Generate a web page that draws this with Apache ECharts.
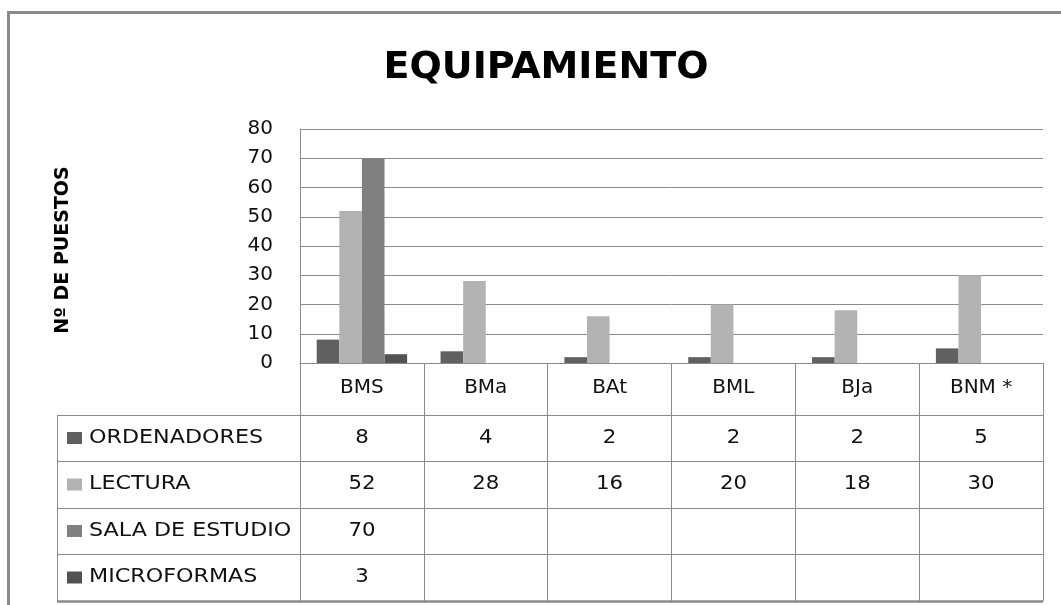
<!DOCTYPE html>
<html>
<head>
<meta charset="utf-8">
<script src="https://cdn.jsdelivr.net/npm/echarts@6/dist/echarts.min.js"></script>
<style>html,body{margin:0;padding:0;background:#fff}#c{width:1061px;height:605px}</style>
</head>
<body>
<div id="c"></div>
<script>
const titleText = 'EQUIPAMIENTO';
const yAxisTitle = 'Nº DE PUESTOS';
const categories = ['BMS', 'BMa', 'BAt', 'BML', 'BJa', 'BNM *'];
const seriesNames = ['ORDENADORES', 'LECTURA', 'SALA DE ESTUDIO', 'MICROFORMAS'];
const ordenadores = [8, 4, 2, 2, 2, 5];
const lectura = [52, 28, 16, 20, 18, 30];
const salaEstudio = [70, null, null, null, null, null];
const microformas = [3, null, null, null, null, null];
const yMin = 0, yMax = 80, yInterval = 10;

const seriesData = [ordenadores, lectura, salaEstudio, microformas];
const colors = ['#606060', '#b3b3b3', '#808080', '#525252'];
const lineColor = '#8a8a8a';
const font = 'DejaVu Sans';

const G = { left: 300, right: 18, top: 129, bottom: 242 };
const rowTops = [415, 461, 508, 554, 601];
const tableLeft = 57;

const chart = echarts.init(document.getElementById('c'), null, { renderer: 'canvas' });

const option = {
  animation: false,
  backgroundColor: '#fff',
  title: {
    text: titleText, left: 541, top: 44, textAlign: 'center',
    textStyle: { fontFamily: font, fontWeight: 'bold', fontSize: 38, color: '#000' }
  },
  grid: { left: G.left, right: G.right, top: G.top, bottom: G.bottom, containLabel: false },
  xAxis: {
    type: 'category', data: categories,
    axisLine: { show: true, lineStyle: { color: lineColor, width: 1 } },
    axisTick: { show: true, interval: 0, length: 601 - 363, lineStyle: { color: lineColor, width: 1 } },
    axisLabel: { interval: 0, margin: 15, fontFamily: font, fontSize: 20, color: '#111' },
    splitLine: { show: false }
  },
  yAxis: {
    type: 'value', min: yMin, max: yMax, interval: yInterval,
    name: yAxisTitle, nameLocation: 'middle', nameRotate: 90, nameGap: 227,
    nameTextStyle: { fontFamily: font, fontWeight: 'bold', fontSize: 19, color: '#000', padding: [0, 8, 0, 0] },
    axisLine: { show: true, lineStyle: { color: lineColor, width: 1 } },
    axisTick: { show: false },
    axisLabel: { margin: 27, fontFamily: font, fontSize: 20, color: '#111' },
    splitLine: { show: true, lineStyle: { color: lineColor, width: 1 } }
  },
  series: seriesNames.map((n, i) => ({
    name: n, type: 'bar', data: seriesData[i],
    barGap: '0%', barCategoryGap: '27%',
    itemStyle: { color: colors[i] }
  }))
};
chart.setOption(option);

function buildTable() {
  const els = [];
  const step = chart.convertToPixel({ xAxisIndex: 0 }, 1) - chart.convertToPixel({ xAxisIndex: 0 }, 0);
  const xRight = chart.convertToPixel({ xAxisIndex: 0 }, categories.length - 1) + step / 2;
  // outer frame
  els.push({ type: 'line', shape: { x1: 7, y1: 12.5, x2: 1061, y2: 12.5 }, style: { stroke: lineColor, lineWidth: 3 } });
  els.push({ type: 'line', shape: { x1: 8.5, y1: 11, x2: 8.5, y2: 605 }, style: { stroke: lineColor, lineWidth: 3 } });
  // horizontal table lines
  rowTops.forEach((y, k) => {
    els.push({ type: 'line', shape: { x1: tableLeft, y1: y + 0.5, x2: xRight, y2: y + 0.5 },
      style: { stroke: lineColor, lineWidth: k === rowTops.length - 1 ? 2.5 : 1 } });
  });
  els.push({ type: 'line', shape: { x1: tableLeft + 0.5, y1: rowTops[0], x2: tableLeft + 0.5, y2: rowTops[rowTops.length - 1] },
    style: { stroke: lineColor, lineWidth: 1 } });
  seriesNames.forEach((n, r) => {
    const cy = (rowTops[r] + rowTops[r + 1]) / 2;
    els.push({ type: 'rect', shape: { x: 67, y: cy - 6, width: 15, height: 12 }, style: { fill: colors[r] } });
    els.push({ type: 'text', x: 89, y: cy, scaleX: 1.17,
      style: { text: n, fontFamily: font, fontSize: 19, fill: '#111', textVerticalAlign: 'middle', textAlign: 'left' } });
    seriesData[r].forEach((v, c) => {
      if (v === null || v === undefined) return;
      const cx = chart.convertToPixel({ xAxisIndex: 0 }, c);
      els.push({ type: 'text', x: cx, y: cy, scaleX: 1.12,
        style: { text: String(v), fontFamily: font, fontSize: 19, fill: '#111', textVerticalAlign: 'middle', textAlign: 'center' } });
    });
  });
  chart.setOption({ graphic: { elements: els } });
}
buildTable();
</script>
</body>
</html>
